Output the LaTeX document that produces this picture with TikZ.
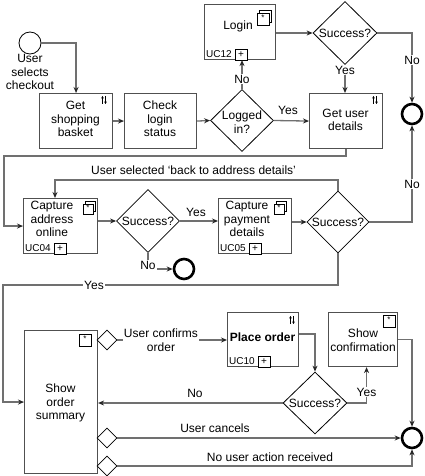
\documentclass[tikz,border=0pt]{standalone}
\usepackage{fontspec}
\setmainfont{Liberation Sans}
\usetikzlibrary{shapes.geometric,arrows.meta,calc}
\definecolor{linegray}{RGB}{112,112,112}
\definecolor{boxgray}{RGB}{80,80,80}
\begin{document}
\begin{tikzpicture}[x=1pt,y=-1pt,
  conn/.style={draw=linegray, line width=1.3pt, -{Stealth[length=6pt,width=5pt,color=black!85]}},
  box/.style={draw=boxgray, line width=1.1pt, fill=white, inner sep=0, anchor=north west},
  dia/.style={diamond, draw=black, line width=0.8pt, inner sep=0, fill=white},
  gw/.style={diamond, draw=black, line width=0.8pt, inner sep=0, fill=white, minimum width=20pt, minimum height=20pt},
  txt/.style={font=\fontsize{12}{13.5}\selectfont, align=center, inner sep=0},
  lbl/.style={txt, fill=white, inner sep=1pt},
  uct/.style={font=\fontsize{10}{11}\selectfont, inner sep=0},
  plusmark/.style={font=\fontsize{10}{11}\selectfont, inner sep=0},
  starmark/.style={font=\fontsize{8}{9}\selectfont, inner sep=0},
  icon/.style={draw=black, line width=0.7pt, fill=white},
  tinyarrow/.style={draw=black, line width=0.6pt, -{Stealth[length=2.5pt,width=2.6pt]}},
  startev/.style={circle, draw=black, line width=0.8pt, minimum size=22pt, inner sep=0, fill=white},
  endev/.style={circle, draw=black, line width=2.6pt, minimum size=20pt, inner sep=0, fill=white}]
\fill[white] (0,0) rectangle (424,476);
\useasboundingbox (0,0) rectangle (424,476);

\newcommand\stackicon[4]{%
  \draw[icon] (#1+2.5,#2-3) rectangle ++(#4,#4);
  \draw[icon] (#1,#2) rectangle ++(#4,#4);
  \node[starmark] (#3) at (#1+#4/2,#2+#4/2-1) {*};}
\newcommand\oneicon[3]{%
  \draw[icon] (#1,#2) rectangle ++(12,12);
  \node[starmark] (#3) at (#1+6,#2+5) {*};}
\newcommand\sorticon[2]{%
  \draw[tinyarrow] (#1-1.5,#2+4) -- (#1-1.5,#2-4);
  \draw[tinyarrow] (#1+1.5,#2-4) -- (#1+1.5,#2+4);}
\newcommand\ucmark[3]{%
  \node[uct, anchor=south west] (#3t) at ($(#1.south west)+(2,-2)$) {#2};
  \draw[icon] ($(#1.south west)+(31,0)$) rectangle ++(12,-11);
  \node[plusmark] (#3p) at ($(#1.south west)+(37,-5.5)$) {+};}

% ---------- events ----------
\node[startev] (start) at (30,43) {};
\node[txt] (startt) at (30,72) {User\\selects\\checkout};
\node[endev] (e1) at (412,114) {};
\node[endev] (e2) at (184,269) {};
\node[endev] (e3) at (412,438) {};

% ---------- boxes ----------
\node[box, minimum width=73pt, minimum height=55pt] (gsb) at (39,93) {};
\node[txt] (gsbt) at (75.5,119) {Get\\shopping\\basket};
\sorticon{104}{100}
\node[box, minimum width=72pt, minimum height=55pt] (cls) at (124,93) {};
\node[txt] (clst) at (160,119) {Check\\login\\status};
\node[box, minimum width=71pt, minimum height=55pt] (login) at (204,4) {};
\node[txt] (logint) at (238,26) {Login};
\stackicon{257}{13}{loginic}{12}
\ucmark{login}{UC12}{loginuc}
\node[box, minimum width=73pt, minimum height=55pt] (gud) at (309,93) {};
\node[txt] (gudt) at (345.5,120) {Get user\\details};
\sorticon{375}{100}

\node[box, minimum width=74pt, minimum height=55pt] (cao) at (23,198) {};
\node[txt] (caot) at (52,219) {Capture\\address\\online};
\stackicon{83}{204}{caoic}{10}
\ucmark{cao}{UC04}{caouc}
\node[box, minimum width=73pt, minimum height=55pt] (cpd) at (218,198) {};
\node[txt] (cpdt) at (247,219) {Capture\\payment\\details};
\stackicon{274}{204}{cpdic}{10}
\ucmark{cpd}{UC05}{cpduc}

\node[box, minimum width=73pt, minimum height=143pt] (sos) at (24,330) {};
\node[txt] (sost) at (60.5,403) {Show\\order\\summary};
\oneicon{79}{334}{sosic}
\node[box, minimum width=71pt, minimum height=54pt] (po) at (227,312) {};
\node[txt, font=\fontsize{12}{13.5}\selectfont\bfseries] (pot) at (262.5,337) {Place order};
\sorticon{292}{320}
\ucmark{po}{UC10}{pouc}
\node[box, minimum width=69pt, minimum height=54pt] (sc) at (328,312) {};
\node[txt] (sct) at (363,340) {Show\\confirmation};
\oneicon{383}{315}{scic}

% ---------- decisions ----------
\node[dia, minimum width=63pt, minimum height=62pt] (li) at (242,120.5) {};
\node[txt] (lit) at (242,122) {Logged\\in?};
\node[dia, minimum width=64pt, minimum height=63pt] (s1) at (345,33) {};
\node[txt] (s1t) at (345,33) {Success?};
\node[dia, minimum width=63pt, minimum height=63pt] (s2) at (148,221) {};
\node[txt] (s2t) at (148,221) {Success?};
\node[dia, minimum width=62pt, minimum height=62pt] (s3) at (338,222) {};
\node[txt] (s3t) at (338,222) {Success?};
\node[dia, minimum width=64pt, minimum height=62pt] (s4) at (315,403) {};
\node[txt] (s4t) at (315,403) {Success?};
\node[gw] (g1) at (107,340) {};
\node[gw] (g2) at (107,438) {};
\node[gw] (g3) at (107,466) {};

% ---------- connectors ----------
\draw[conn] (start.east) -| (gsb.north);
\draw[conn] (gsb.east) -- (cls.west);
\draw[conn] (cls.east) -- (li.west);
\draw[conn] (li.east) -- (gud.west);
\node[txt] (yli) at (288,110) {Yes};
\draw[conn] (li.north) -- (li.north |- login.south);
\node[lbl] (nli) at (242,79) {No};
\draw[conn] (login.east |- s1) -- (s1.west);
\draw[conn] (s1.south) -- (s1.south |- gud.north);
\node[lbl, inner sep=0.5pt] (ys1) at (345,70) {Yes};
\draw[conn] (s1.east) -| (e1.north);
\node[lbl] (ns1) at (412,60) {No};

\coordinate (gudturn) at (4,156);
\draw[conn] (gud.south) |- (gudturn) |- (cao.west);
\draw[conn] (cao.east |- s2) -- (s2.west);
\draw[conn] (s2.east) -- (cpd.west |- s2);
\node[txt] (ys2) at (196,212) {Yes};
\draw[conn] (s2.south) |- (e2.west);
\node[lbl] (ns2) at (148,265) {No};
\draw[conn] (cpd.east |- s3) -- (s3.west);
\draw[conn] (s3.east) -| (e1.south);
\node[lbl] (ns3) at (412,184) {No};
\coordinate (bk) at (55,180);
\draw[conn] (s3.north) |- (bk) -- (bk |- cao.north);
\node[txt] (bkt) at (193.5,170) {User selected ‘back to address details’};
\coordinate (yturn) at (3,285);
\draw[conn] (s3.south) |- (yturn) |- (sos.west);
\node[lbl] (ys3) at (94,285) {Yes};

\draw[conn] (g1.east) -- (po.west |- g1);
\node[lbl] (g1t) at (161,340) {User confirms\\order};
\draw[conn] ($(po.north east)!0.4!(po.south east)$) -| (s4.north);
\draw[conn] (s4.west) -- (sos.east |- s4);
\node[txt] (ns4) at (195,393) {No};
\draw[conn] (s4.east) -| ($(sc.south)+(3.5,0)$);
\node[lbl] (ys4) at (366.5,392) {Yes};
\draw[conn] (sc.east) -| (e3.north);
\draw[conn] (g2.east) -- (e3.west);
\node[txt] (g2t) at (215,428) {User cancels};
\draw[conn] (g3.east) -| (e3.south);
\node[txt] (g3t) at (270,457) {No user action received};
\end{tikzpicture}
\end{document}
